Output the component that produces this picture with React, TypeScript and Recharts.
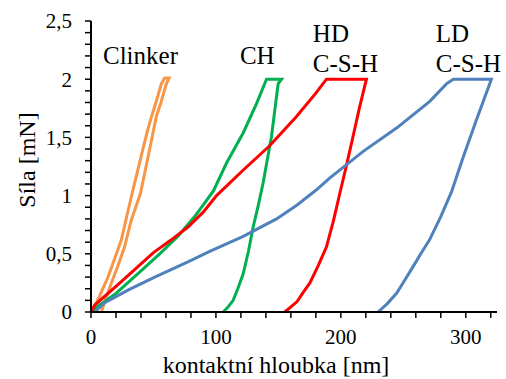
import { LineChart, Line, XAxis, YAxis, ReferenceDot, Label } from "recharts";

// hloubka [nm] / sila [mN], zatěžování + výdrž + odlehčení
const clinkerDepth = [0, 2, 7, 13.6, 19, 24.3, 29, 33.6, 40, 45, 48.5, 52, 56.3, 59, 62.5, 60.3, 56, 52.3, 47, 39.6, 32, 26.9, 21, 16.3, 12, 8.3];
const clinkerForce = [0, 0.03, 0.14, 0.3, 0.46, 0.62, 0.84, 1.05, 1.33, 1.55, 1.68, 1.8, 1.96, 2.01, 2.01, 1.96, 1.8, 1.68, 1.4, 1.02, 0.78, 0.56, 0.38, 0.25, 0.12, 0];

const chDepth = [0, 5.6, 20, 37.6, 55, 69.6, 83, 98, 108.5, 121.9, 132.5, 140.5, 152.5, 149.8, 144.5, 137.8, 134, 129.8, 126, 121.9, 117.5, 113.8, 109.5, 105.8];
const chForce = [0, 0.05, 0.16, 0.33, 0.5, 0.65, 0.82, 1.04, 1.28, 1.54, 1.79, 2.0, 2.0, 1.96, 1.51, 1.11, 0.92, 0.73, 0.52, 0.33, 0.2, 0.1, 0.04, 0];

const hdDepth = [0, 3, 20, 37.6, 50, 64.3, 77.6, 90, 100.5, 121.9, 143.2, 164.5, 180, 188.5, 220.5, 215, 209.8, 204.5, 199.2, 194, 188.5, 182, 175.2, 170, 165, 155.2];
const hdForce = [0, 0.06, 0.22, 0.39, 0.51, 0.62, 0.73, 0.86, 1.0, 1.22, 1.43, 1.68, 1.88, 2.0, 2.0, 1.76, 1.51, 1.26, 1.02, 0.78, 0.56, 0.4, 0.25, 0.17, 0.09, 0];

const ldDepth = [3, 11, 30, 51, 77.6, 95, 121.9, 148.5, 165, 180.5, 191, 217.9, 244.6, 271.2, 284.5, 290, 320.5, 308.5, 297.9, 288.5, 280, 271, 264, 257.8, 251, 244.6, 237, 229.8];
const ldForce = [0, 0.08, 0.19, 0.3, 0.43, 0.52, 0.65, 0.8, 0.92, 1.05, 1.15, 1.38, 1.58, 1.81, 1.96, 2.0, 2.0, 1.65, 1.33, 1.03, 0.82, 0.62, 0.5, 0.39, 0.27, 0.16, 0.07, 0];

const xTicks = [0, 20, 40, 60, 80, 100, 120, 140, 160, 180, 200, 220, 240, 260, 280, 300, 320];
const yTicks = [0, 0.1, 0.2, 0.3, 0.4, 0.5, 0.6, 0.7, 0.8, 0.9, 1, 1.1, 1.2, 1.3, 1.4, 1.5, 1.6, 1.7, 1.8, 1.9, 2, 2.1, 2.2, 2.3, 2.4, 2.5];

// popisky křivek: text, poloha (hloubka, síla)
const noteLines = [["Clinker"], ["CH"], ["HD", "C-S-H"], ["LD", "C-S-H"]];
const noteX = [9.6, 119.2, 177.6, 276];
const noteY = [2.13, 2.13, 2.32, 2.32];

const toPoints = (depth: number[], force: number[]) =>
  depth.map((x, i) => ({ x, y: force[i] }));

const series = [
  { name: "Clinker", color: "#F79646", data: toPoints(clinkerDepth, clinkerForce) },
  { name: "CH", color: "#00B050", data: toPoints(chDepth, chForce) },
  { name: "HD C-S-H", color: "#FF0000", data: toPoints(hdDepth, hdForce) },
  { name: "LD C-S-H", color: "#4F81BD", data: toPoints(ldDepth, ldForce) },
];

const FONT = '"Liberation Serif", Tinos, "Times New Roman", "DejaVu Serif", serif';
const serif = { fontFamily: FONT };

const noteContent = (lines: string[]) => (props: any) => {
  const vb = props.viewBox || {};
  const x = vb.x + (vb.width || 0) / 2;
  const y = vb.y + (vb.height || 0) / 2;
  return (
    <text x={x} y={y} style={serif} fontSize={25} fill="#000">
      {lines.map((l, i) => (
        <tspan key={i} x={x} dy={i === 0 ? 0 : 30}>
          {l}
        </tspan>
      ))}
    </text>
  );
};

export default function App() {
  return (
    <div style={{ position: "absolute", left: 0, top: 0, background: "#fff", ...serif }}>
      <LineChart
        width={506}
        height={379}
        margin={{ top: 21, right: 9, left: 0, bottom: 0 }}
        style={serif}
      >
        <XAxis
          type="number"
          dataKey="x"
          domain={[0, 325]}
          ticks={xTicks}
          interval={0}
          tickFormatter={(v: number) => (v % 100 === 0 ? String(v) : "")}
          height={67}
          tickSize={6}
          tickMargin={11}
          axisLine={{ stroke: "#000", strokeWidth: 2 }}
          tickLine={{ stroke: "#000", strokeWidth: 1.5 }}
          tick={{ style: serif, fontSize: 21, fill: "#000" }}
        >
          <Label
            content={() => (
              <text x={276} y={373} textAnchor="middle" style={serif} fontSize={24} fill="#000">
                kontaktní hloubka [nm]
              </text>
            )}
          />
        </XAxis>
        <YAxis
          type="number"
          dataKey="y"
          domain={[0, 2.5]}
          ticks={yTicks}
          interval={0}
          tickFormatter={(v: number) =>
            Math.round(v * 10) % 5 === 0 ? String(v).replace(".", ",") : ""
          }
          width={91}
          tickSize={6}
          tickMargin={13}
          axisLine={{ stroke: "#000", strokeWidth: 2 }}
          tickLine={{ stroke: "#000", strokeWidth: 1.5 }}
          tick={{ style: serif, fontSize: 21, fill: "#000" }}
        >
          <Label
            content={() => (
              <text
                x={0}
                y={0}
                transform="translate(35,160) rotate(-90)"
                textAnchor="middle"
                style={serif}
                fontSize={24}
                fill="#000"
              >
                Síla [mN]
              </text>
            )}
          />
        </YAxis>
        {series.map((s) => (
          <Line
            key={s.name}
            data={s.data}
            dataKey="y"
            name={s.name}
            type="linear"
            stroke={s.color}
            strokeWidth={3}
            dot={false}
            isAnimationActive={false}
          />
        ))}
        {noteLines.map((lines, i) => (
          <ReferenceDot
            key={i}
            x={noteX[i]}
            y={noteY[i]}
            r={1}
            fill="none"
            stroke="none"
            label={noteContent(lines)}
          />
        ))}
      </LineChart>
    </div>
  );
}
